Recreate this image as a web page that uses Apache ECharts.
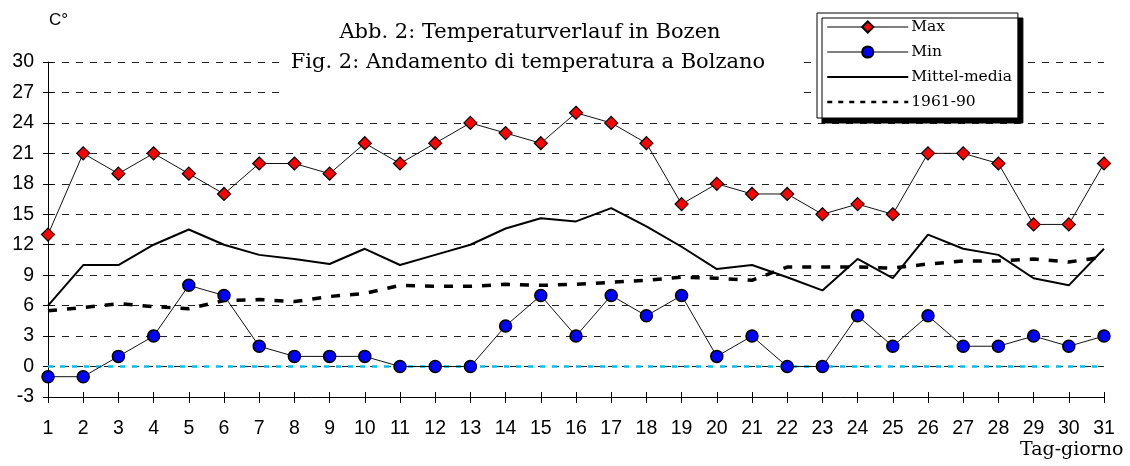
<!DOCTYPE html>
<html lang="de">
<head>
    <meta charset="UTF-8">
    <title>Temperaturverlauf in Bozen</title>
    <style>
        html, body { margin: 0; padding: 0; background: #fff; }
        #chart { width: 1130px; height: 466px; }
    </style>
</head>
<body>
<div id="chart"></div>
<script src="https://cdn.jsdelivr.net/npm/echarts/dist/echarts.min.js"></script>
<script>
    // Tage 1..31
    var days = ['1','2','3','4','5','6','7','8','9','10','11','12','13','14','15','16',
                '17','18','19','20','21','22','23','24','25','26','27','28','29','30','31'];
    var maxT = [13, 21, 19, 21, 19, 17, 20, 20, 19, 22, 20, 22, 24, 23, 22, 25,
                24, 22, 16, 18, 17, 17, 15, 16, 15, 21, 21, 20, 14, 14, 20];
    var minT = [-1, -1, 1, 3, 8, 7, 2, 1, 1, 1, 0, 0, 0, 4, 7, 3,
                7, 5, 7, 1, 3, 0, 0, 5, 2, 5, 2, 2, 3, 2, 3];
    var mittel = [6, 10, 10, 12, 13.5, 12, 11, 10.6, 10.1, 11.6, 10, 11, 12, 13.6, 14.6, 14.3,
                  15.6, 13.8, 11.8, 9.6, 10, 8.8, 7.5, 10.6, 8.7, 13, 11.6, 11, 8.7, 8, 11.6];
    var norm = [5.5, 5.8, 6.2, 5.9, 5.7, 6.5, 6.6, 6.4, 6.9, 7.2, 8.0, 7.9, 7.9, 8.1, 8.0, 8.1,
                8.3, 8.5, 8.8, 8.7, 8.5, 9.8, 9.8, 9.8, 9.7, 10.1, 10.4, 10.4, 10.6, 10.3, 10.8];
    var yMin = -3, yMax = 30, yStep = 3;

    var sans = 'Liberation Sans';
    var serif = 'DejaVu Serif';

    var myChart = echarts.init(document.getElementById('chart'));
    var option = {
        animation: false,
        grid: { left: 48, right: 26, top: 62, bottom: 69 },
        legend: {
            orient: 'vertical',
            left: 817, top: 13,
            padding: [6, 6, 8, 9],
            itemWidth: 81, itemHeight: 14, itemGap: 9,
            backgroundColor: '#fff',
            borderColor: '#000', borderWidth: 1,
            shadowColor: '#000', shadowBlur: 0, shadowOffsetX: 5, shadowOffsetY: 5,
            textStyle: { fontFamily: serif, fontSize: 15.5, color: '#000', padding: [0, 0, 0, -2] },
            data: [
                { name: 'Max', lineStyle: { color: '#555', width: 1.5 } },
                { name: 'Min', lineStyle: { color: '#555', width: 1.5 } },
                { name: 'Mittel-media', itemStyle: { opacity: 0 }, lineStyle: { width: 2 } },
                { name: '1961-90', itemStyle: { opacity: 0 }, lineStyle: { width: 2.5, type: [5, 6] } }
            ]
        },
        xAxis: [
            {
                type: 'category', data: days, boundaryGap: false,
                axisLine: { onZero: false, lineStyle: { color: '#000', width: 1 } },
                axisTick: { length: 6, lineStyle: { color: '#000' } },
                axisLabel: { color: '#000', fontFamily: sans, fontSize: 19.5, margin: 22 }
            },
            {   // inneren Teil der Striche
                type: 'category', data: days, boundaryGap: false, position: 'bottom',
                axisLine: { show: false, onZero: false },
                axisTick: { inside: true, length: 5, lineStyle: { color: '#000' } },
                axisLabel: { show: false }
            }
        ],
        yAxis: [
            {
                type: 'value', min: yMin, max: yMax, interval: yStep,
                axisLine: { show: true, onZero: false, lineStyle: { color: '#000', width: 1 } },
                axisTick: { show: true, length: 5, lineStyle: { color: '#000' } },
                axisLabel: { color: '#000', fontFamily: sans, fontSize: 19.5, margin: 14 },
                splitLine: { lineStyle: { color: '#222', width: 1, type: [7, 7] } }
            },
            {
                type: 'value', min: yMin, max: yMax, interval: yStep, position: 'left',
                axisLine: { show: false, onZero: false },
                axisTick: { show: true, inside: true, length: 5, lineStyle: { color: '#000' } },
                axisLabel: { show: false },
                splitLine: { show: false }
            }
        ],
        series: [
            {
                name: 'Max', type: 'line', data: maxT,
                symbol: 'diamond', symbolSize: 13,
                itemStyle: { color: '#ff0000', borderColor: '#000', borderWidth: 1.2 },
                lineStyle: { color: '#111', width: 1 },
                z: 5
            },
            {
                name: 'Min', type: 'line', data: minT,
                symbol: 'circle', symbolSize: 12,
                itemStyle: { color: '#0000ff', borderColor: '#000', borderWidth: 1.5 },
                lineStyle: { color: '#111', width: 1 },
                markLine: {
                    silent: true, symbol: 'none', label: { show: false },
                    lineStyle: { color: '#00c0f0', width: 2.5, type: [5, 7] },
                    data: [{ yAxis: 0 }]
                },
                z: 5
            },
            {
                name: 'Mittel-media', type: 'line', data: mittel,
                symbol: 'none',
                itemStyle: { color: '#000' },
                lineStyle: { color: '#000', width: 2 },
                z: 4
            },
            {
                name: '1961-90', type: 'line', data: norm,
                symbol: 'none',
                itemStyle: { color: '#000' },
                lineStyle: { color: '#000', width: 3.5, type: [9, 10] },
                z: 4
            }
        ],
        graphic: [
            { type: 'rect', left: 286, top: 46, shape: { width: 516, height: 52 },
              style: { fill: '#fff' }, z: 50 },
            { type: 'text', x: 530, y: 22, z: 51,
              style: { text: 'Abb. 2: Temperaturverlauf in Bozen', fontFamily: serif, fontSize: 21,
                       fill: '#000', align: 'center' } },
            { type: 'text', x: 528, y: 52, z: 51,
              style: { text: 'Fig. 2: Andamento di temperatura a Bolzano', fontFamily: serif, fontSize: 21,
                       fill: '#000', align: 'center' } },
            { type: 'text', left: 49, top: 12, z: 51,
              style: { text: 'C°', fontFamily: sans, fontSize: 17, fill: '#000' } },
            { type: 'text', left: 1020, top: 441, z: 51,
              style: { text: 'Tag-giorno', fontFamily: serif, fontSize: 19, fill: '#000' } }
        ]
    };
    myChart.setOption(option);
</script>
</body>
</html>
